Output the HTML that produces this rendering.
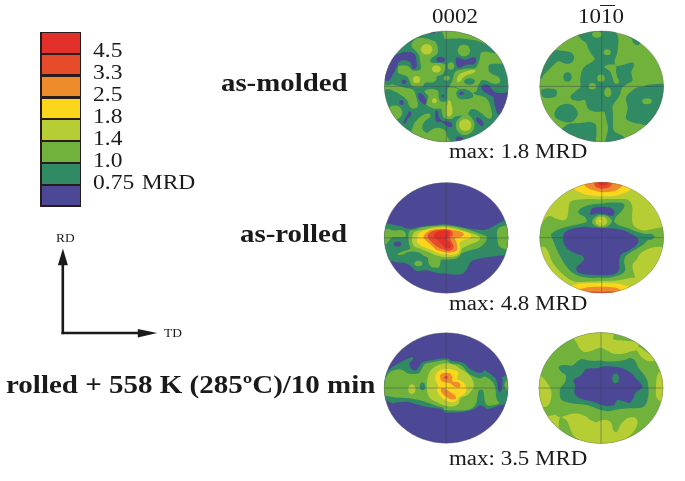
<!DOCTYPE html>
<html><head><meta charset="utf-8">
<style>
html,body{margin:0;padding:0;background:#fff;}
body{width:685px;height:481px;position:relative;overflow:hidden;font-family:"Liberation Serif",serif;color:#1a1a1a;}
.t{position:absolute;white-space:nowrap;line-height:1;transform:scaleX(1.12);transform-origin:0 0;will-change:transform;}
.b{font-weight:bold;}
.lg{position:absolute;left:40.4px;top:31.8px;width:40.7px;height:175.1px;background:#2a1c1c;}
.lg div{position:absolute;left:1.5px;width:37.7px;}
</style></head><body>
<svg width="685" height="481" viewBox="0 0 685 481" style="position:absolute;left:0;top:0"><defs><clipPath id="cf1"><ellipse cx="446.25" cy="86.40" rx="62.00" ry="55.50"/></clipPath><clipPath id="cf2"><ellipse cx="601.65" cy="86.40" rx="62.00" ry="55.50"/></clipPath><clipPath id="cf3"><ellipse cx="446.20" cy="237.90" rx="62.00" ry="55.30"/></clipPath><clipPath id="cf4"><ellipse cx="601.70" cy="237.70" rx="62.00" ry="55.40"/></clipPath><clipPath id="cf5"><ellipse cx="446.10" cy="388.00" rx="62.00" ry="55.30"/></clipPath><clipPath id="cf6"><ellipse cx="601.00" cy="388.00" rx="62.10" ry="55.45"/></clipPath></defs>
<g clip-path="url(#cf1)">
<rect x="383.2" y="29.9" width="126.0" height="113.0" fill="#308a64"/>
<path fill="#70b23c" d="M443.8 28.0C439.4 29.5 443.7 34.2 443.9 36.0C444.1 37.8 443.6 38.4 445.0 38.8C446.4 39.2 449.5 38.7 452.0 38.6C454.5 38.5 457.3 38.1 460.0 38.2C462.7 38.3 465.5 38.9 468.0 39.2C470.5 39.6 472.8 39.8 475.0 40.3C477.2 40.8 479.0 41.3 481.0 42.0C483.0 42.7 485.5 45.2 487.0 44.5C488.5 43.8 492.8 40.9 490.0 38.0C487.2 35.1 477.7 28.7 470.0 27.0C462.3 25.3 448.2 26.5 443.8 28.0Z"/>
<ellipse cx="463.9" cy="50.6" rx="6.2" ry="6.0" fill="#70b23c"/>
<path fill="#70b23c" d="M411.5 45.5C411.4 44.1 412.4 42.2 413.5 41.0C414.6 39.8 416.2 38.8 418.0 38.3C419.8 37.8 422.3 38.1 424.5 38.3C426.7 38.5 429.2 39.1 431.0 39.7C432.8 40.3 434.4 40.9 435.5 42.1C436.6 43.3 437.2 45.2 437.6 46.8C438.0 48.4 438.1 50.2 437.9 51.5C437.7 52.8 437.2 53.7 436.3 54.7C435.4 55.7 433.5 56.3 432.4 57.3C431.3 58.3 429.9 59.6 429.8 60.5C429.7 61.4 430.8 62.4 432.0 62.8C433.2 63.2 435.4 62.9 437.0 63.0C438.6 63.1 440.1 62.9 441.5 63.2C442.9 63.5 444.7 63.8 445.2 65.0C445.7 66.2 445.2 68.9 444.7 70.5C444.2 72.1 443.3 73.5 442.0 74.5C440.7 75.5 438.0 75.4 437.0 76.3C436.0 77.2 436.9 79.0 436.2 80.0C435.4 81.0 434.0 82.1 432.5 82.5C431.0 82.9 428.4 82.0 427.0 82.2C425.6 82.4 425.1 82.8 424.3 83.5C423.6 84.2 423.6 86.0 422.5 86.5C421.4 87.0 419.6 86.8 418.0 86.8C416.4 86.8 414.2 86.6 413.0 86.2C411.8 85.8 411.5 85.2 410.9 84.2C410.3 83.2 410.0 81.5 409.3 80.2C408.6 78.9 408.1 77.2 406.9 76.3C405.7 75.4 403.6 75.2 402.2 74.7C400.8 74.2 398.9 74.1 398.2 73.1C397.5 72.0 397.6 69.6 397.8 68.4C398.0 67.2 398.5 66.3 399.5 65.8C400.5 65.3 402.6 65.5 404.0 65.5C405.4 65.5 406.9 65.5 408.0 66.0C409.1 66.5 409.7 67.8 410.5 68.5C411.3 69.2 411.8 70.2 413.0 70.5C414.2 70.8 416.7 70.8 418.0 70.5C419.3 70.2 420.6 69.8 421.0 68.5C421.4 67.2 420.7 64.9 420.3 62.6C419.9 60.3 419.9 56.9 418.8 54.7C417.8 52.5 415.2 50.7 414.0 49.2C412.8 47.7 411.6 46.9 411.5 45.5Z"/>
<ellipse cx="451" cy="66" rx="3.3" ry="3.8" fill="#70b23c"/>
<ellipse cx="446.8" cy="78.2" rx="2.8" ry="2.4" fill="#70b23c"/>
<path fill="#70b23c" d="M480.6 54.0C480.9 53.0 480.6 52.6 481.8 52.3C483.1 51.9 486.1 51.8 488.1 51.9C490.1 52.0 491.6 52.5 493.6 53.1C495.6 53.7 497.9 54.4 500.0 55.5C502.1 56.6 505.0 58.6 506.0 60.0C507.0 61.4 506.6 63.4 506.0 64.0C505.4 64.6 504.1 63.8 502.3 63.8C500.5 63.8 497.2 63.6 495.0 63.8C492.8 64.0 490.0 63.9 489.0 65.0C488.0 66.2 488.4 69.2 488.9 70.7C489.4 72.2 490.7 73.0 492.1 73.9C493.6 74.8 496.3 75.4 497.6 76.3C498.9 77.2 499.7 78.3 500.0 79.4C500.3 80.5 500.3 82.3 499.2 83.0C498.1 83.7 495.6 84.1 493.6 83.8C491.6 83.5 489.3 81.6 487.3 81.0C485.3 80.4 483.1 79.8 481.8 80.2C480.5 80.6 480.1 82.4 479.4 83.4C478.7 84.5 478.3 85.2 477.8 86.5C477.3 87.8 477.2 90.2 476.3 91.3C475.4 92.4 474.0 92.6 472.3 92.9C470.6 93.2 468.4 93.7 466.0 92.9C463.6 92.1 460.3 89.0 458.0 88.0C455.7 87.0 453.4 86.9 452.0 86.6C450.6 86.3 449.5 86.8 449.5 86.0C449.5 85.2 451.2 83.4 451.9 81.8C452.5 80.2 452.9 77.9 453.4 76.3C453.9 74.7 454.2 73.3 455.0 72.3C455.8 71.2 456.9 70.5 458.2 70.0C459.5 69.5 461.4 69.5 462.9 69.2C464.4 68.9 465.5 68.5 467.0 68.4C468.5 68.3 470.6 68.6 472.0 68.5C473.4 68.4 474.5 68.7 475.5 68.0C476.5 67.3 477.1 65.8 477.8 64.2C478.5 62.6 479.3 60.3 479.8 58.6C480.3 56.9 480.3 55.0 480.6 54.0Z"/>
<path fill="#70b23c" d="M383.0 84.0C383.8 83.4 386.5 85.5 388.0 85.5C389.5 85.5 390.6 84.2 391.9 84.2C393.2 84.2 394.4 84.9 395.8 85.2C397.2 85.5 398.6 85.9 400.0 86.3C401.4 86.7 402.7 87.2 404.0 87.5C405.3 87.8 406.7 88.0 408.0 88.2C409.3 88.4 410.5 88.4 411.6 88.9C412.7 89.5 413.8 90.3 414.5 91.5C415.2 92.7 415.6 94.6 416.0 96.0C416.4 97.4 416.7 98.6 417.0 100.0C417.3 101.4 418.1 103.2 418.0 104.5C417.9 105.8 417.5 107.4 416.5 108.0C415.5 108.6 413.2 108.6 412.0 108.2C410.8 107.8 409.8 106.7 409.0 105.5C408.2 104.3 408.2 102.3 407.5 101.0C406.8 99.7 405.8 98.6 404.5 97.5C403.2 96.4 401.4 95.4 400.0 94.5C398.6 93.6 397.5 92.9 395.8 92.1C394.1 91.3 392.1 90.0 390.0 89.5C387.9 89.0 384.2 89.9 383.0 89.0C381.8 88.1 382.2 84.6 383.0 84.0Z"/>
<path fill="#70b23c" d="M424.5 92.0C424.1 91.0 425.2 90.5 426.0 90.0C426.8 89.5 427.7 89.3 429.0 89.2C430.3 89.1 432.2 89.0 433.6 89.2C435.0 89.4 436.7 89.9 437.5 90.5C438.3 91.1 438.4 91.9 438.6 93.0C438.8 94.1 438.6 95.7 438.8 97.0C439.0 98.3 439.3 100.0 440.0 100.8C440.7 101.6 442.0 101.7 443.0 101.8C444.0 101.9 445.3 101.9 446.0 101.2C446.7 100.5 447.0 99.3 447.2 97.6C447.4 95.9 447.1 92.7 447.3 91.0C447.5 89.3 447.1 88.0 448.5 87.5C449.9 87.0 453.1 87.1 456.0 88.0C458.9 88.9 463.3 92.2 466.0 93.0C468.7 93.8 470.6 92.7 472.3 93.0C474.0 93.3 474.7 94.6 476.0 95.0C477.3 95.4 478.6 95.2 480.0 95.5C481.4 95.8 483.0 96.4 484.2 97.0C485.4 97.6 486.1 97.8 487.0 99.0C487.9 100.2 488.8 101.5 489.7 104.0C490.6 106.5 492.0 111.9 492.1 114.3C492.2 116.7 491.4 118.1 490.5 118.6C489.6 119.1 487.9 118.2 486.5 117.4C485.1 116.6 483.6 114.8 481.8 113.5C480.0 112.2 477.4 110.2 475.5 109.5C473.6 108.8 471.9 109.0 470.7 109.5C469.5 110.0 469.2 111.8 468.4 112.7C467.6 113.6 467.7 114.5 466.0 115.0C464.3 115.5 459.8 115.7 458.0 116.0C456.2 116.3 456.1 116.1 455.0 116.6C453.9 117.1 452.8 118.7 451.1 119.0C449.4 119.3 446.1 119.0 444.7 118.2C443.2 117.4 443.0 115.9 442.4 114.3C441.8 112.7 442.1 109.6 440.8 108.7C439.5 107.8 436.5 109.1 434.5 108.7C432.5 108.3 430.4 107.2 429.0 106.4C427.6 105.6 426.2 105.1 426.0 104.0C425.8 102.9 427.1 101.3 427.5 100.0C427.9 98.7 428.8 97.3 428.3 96.0C427.8 94.7 424.9 93.0 424.5 92.0Z"/>
<path fill="#70b23c" d="M466.5 112.5C467.6 112.4 468.0 113.9 469.0 115.0C470.0 116.1 471.6 117.5 472.5 119.0C473.4 120.5 474.3 122.2 474.5 124.0C474.7 125.8 474.2 127.9 473.5 129.5C472.8 131.1 471.4 132.6 470.0 133.5C468.6 134.4 466.9 135.0 465.2 135.0C463.5 135.0 461.4 134.5 460.0 133.5C458.6 132.5 457.2 130.7 456.5 129.0C455.8 127.3 455.7 125.2 456.0 123.5C456.3 121.8 457.4 120.3 458.5 119.0C459.6 117.7 461.2 116.6 462.5 115.5C463.8 114.4 465.4 112.6 466.5 112.5Z"/>
<path fill="#70b23c" d="M386.0 109.0C386.6 107.9 388.2 107.8 389.5 107.2C390.8 106.6 391.9 105.7 393.5 105.6C395.1 105.5 397.6 105.5 399.0 106.4C400.4 107.3 401.8 109.5 402.2 111.1C402.6 112.7 402.2 114.5 401.4 115.8C400.6 117.1 399.0 118.5 397.4 119.0C395.8 119.5 393.9 119.8 392.0 119.0C390.1 118.2 387.0 115.7 386.0 114.0C385.0 112.3 385.4 110.1 386.0 109.0Z"/>
<path fill="#70b23c" d="M408.0 140.0C408.6 137.9 410.4 134.1 411.4 131.3C412.4 128.6 412.8 125.8 414.2 123.5C415.6 121.2 417.9 118.8 419.9 117.2C421.9 115.6 424.6 114.2 426.3 113.7C428.0 113.2 429.1 113.5 429.8 114.0C430.5 114.5 430.7 115.7 430.5 116.5C430.3 117.3 429.5 117.7 428.4 118.6C427.3 119.5 425.1 120.8 424.1 122.1C423.1 123.4 422.5 125.0 422.4 126.4C422.3 127.8 422.6 129.6 423.4 130.6C424.2 131.6 425.7 132.8 427.0 132.7C428.3 132.6 429.6 130.7 431.2 129.9C432.8 129.1 435.1 128.0 436.9 127.8C438.7 127.6 440.3 127.9 441.8 128.5C443.3 129.1 445.1 130.1 446.0 131.3C446.9 132.6 446.8 133.9 447.0 136.0C447.2 138.1 454.0 142.7 447.5 144.0C441.0 145.3 414.6 144.7 408.0 144.0C401.4 143.3 407.4 142.1 408.0 140.0Z"/>
<ellipse cx="469.5" cy="81.5" rx="5.5" ry="3.3" fill="#308a64"/>
<path fill="#308a64" d="M456.5 92.5C456.8 91.3 457.8 90.1 459.0 89.5C460.2 88.9 462.3 88.6 464.0 88.8C465.7 89.0 467.6 89.7 469.0 90.5C470.4 91.3 471.8 92.4 472.5 93.5C473.2 94.6 473.4 96.2 473.0 97.0C472.6 97.8 471.3 98.1 470.0 98.5C468.7 98.9 466.7 99.1 465.0 99.2C463.3 99.3 461.3 99.5 460.0 99.0C458.7 98.5 457.6 97.6 457.0 96.5C456.4 95.4 456.2 93.7 456.5 92.5Z"/>
<ellipse cx="426.7" cy="49.3" rx="5.8" ry="5.3" fill="#b6ce34"/>
<ellipse cx="416.6" cy="79.6" rx="3.7" ry="3.6" fill="#b6ce34"/>
<ellipse cx="436.4" cy="69" rx="4.4" ry="3.6" fill="#b6ce34"/>
<path fill="#b6ce34" d="M457.0 81.5C456.8 80.7 457.0 78.2 457.5 77.0C458.0 75.8 458.9 74.8 460.0 74.0C461.1 73.2 462.5 72.6 464.0 72.0C465.5 71.4 467.3 70.8 469.0 70.5C470.7 70.2 472.9 69.8 474.0 70.0C475.1 70.2 475.8 70.9 475.5 71.5C475.2 72.1 473.4 72.9 472.0 73.5C470.6 74.1 468.5 74.3 467.0 75.0C465.5 75.7 464.0 76.6 463.0 77.5C462.0 78.4 461.7 79.8 461.0 80.5C460.3 81.2 459.7 81.8 459.0 82.0C458.3 82.2 457.2 82.3 457.0 81.5Z"/>
<ellipse cx="434.4" cy="100.8" rx="2.4" ry="2.5" fill="#b6ce34"/>
<path fill="#b6ce34" d="M449.0 100.0C449.4 99.9 450.1 100.7 450.5 101.5C450.9 102.3 451.1 103.6 451.5 105.0C451.9 106.4 452.5 108.5 452.6 110.0C452.7 111.5 452.5 112.9 452.0 114.0C451.5 115.1 450.3 116.3 449.5 116.6C448.7 116.8 447.5 116.4 447.0 115.5C446.5 114.6 446.3 112.6 446.3 111.0C446.3 109.4 446.7 107.5 447.0 106.0C447.3 104.5 447.7 103.0 448.0 102.0C448.3 101.0 448.6 100.1 449.0 100.0Z"/>
<ellipse cx="465.2" cy="125" rx="6.2" ry="6" fill="#b6ce34"/>
<path fill="#4c4896" d="M385.0 80.0C384.0 78.6 382.8 74.7 383.0 72.0C383.2 69.3 384.8 66.2 386.0 64.0C387.2 61.8 389.0 60.0 390.5 58.5C392.0 57.0 393.3 55.9 395.0 55.0C396.7 54.1 398.3 53.4 400.6 52.9C402.9 52.4 406.6 51.9 409.0 52.1C411.4 52.3 413.6 52.9 414.8 54.2C416.0 55.5 416.1 58.1 416.4 60.0C416.7 61.9 416.9 64.4 416.8 65.8C416.7 67.2 416.3 68.0 415.5 68.5C414.7 69.0 412.7 69.3 412.0 68.6C411.3 67.8 411.9 65.3 411.3 64.0C410.7 62.7 409.9 61.6 408.5 61.0C407.1 60.4 404.5 60.2 403.0 60.3C401.5 60.4 400.4 60.8 399.5 61.5C398.6 62.2 398.2 63.1 397.5 64.5C396.8 65.9 396.4 68.1 395.5 70.0C394.6 71.9 393.1 74.2 392.0 76.0C390.9 77.8 390.2 79.8 389.0 80.5C387.8 81.2 386.0 81.4 385.0 80.0Z"/>
<path fill="#4c4896" d="M456.0 58.0C456.5 57.1 457.8 57.2 459.0 57.5C460.2 57.8 461.8 59.2 463.0 59.5C464.2 59.8 465.3 59.8 466.5 59.5C467.7 59.2 468.8 58.4 470.0 58.0C471.2 57.6 473.0 57.1 474.0 57.2C475.0 57.3 475.8 57.6 476.0 58.5C476.2 59.4 476.0 61.5 475.5 62.5C475.0 63.5 474.2 64.2 473.0 64.5C471.8 64.8 469.5 64.3 468.0 64.5C466.5 64.7 465.2 65.0 464.0 65.5C462.8 66.0 462.1 67.2 461.0 67.5C459.9 67.8 458.3 67.8 457.5 67.0C456.7 66.2 456.2 64.5 456.0 63.0C455.8 61.5 455.5 58.9 456.0 58.0Z"/>
<ellipse cx="440.7" cy="59.6" rx="4.3" ry="2.9" fill="#4c4896"/>
<ellipse cx="404" cy="81.8" rx="2.5" ry="2.4" fill="#4c4896"/>
<path fill="#4c4896" d="M418.0 94.0C418.3 93.1 419.6 93.0 420.5 93.3C421.4 93.5 422.6 94.5 423.5 95.5C424.4 96.5 425.5 98.2 426.0 99.5C426.5 100.8 426.6 102.7 426.3 103.5C426.1 104.3 425.3 104.7 424.5 104.5C423.7 104.3 422.5 103.5 421.5 102.5C420.5 101.5 419.1 99.9 418.5 98.5C417.9 97.1 417.7 94.9 418.0 94.0Z"/>
<ellipse cx="401.5" cy="102.5" rx="2.2" ry="2.5" fill="#4c4896"/>
<ellipse cx="443" cy="96" rx="1.4" ry="1.2" fill="#4c4896"/>
<ellipse cx="461.5" cy="93.5" rx="2.2" ry="1.8" fill="#4c4896"/>
<path fill="#4c4896" d="M481.8 85.7C482.4 85.0 484.4 84.5 485.7 84.6C487.0 84.7 488.5 85.1 489.7 86.1C490.9 87.1 491.6 89.4 492.9 90.5C494.2 91.6 495.8 92.5 497.6 92.9C499.4 93.3 502.0 92.8 503.9 92.9C505.8 93.0 508.1 89.8 509.0 93.6C509.9 97.4 510.8 112.5 509.0 116.0C507.2 119.5 500.6 115.5 498.4 114.3C496.2 113.1 496.7 110.4 496.0 108.7C495.3 107.0 494.8 105.8 494.4 104.0C494.0 102.2 494.4 99.1 493.6 97.6C492.8 96.1 491.3 96.1 489.7 95.2C488.1 94.3 485.5 93.1 484.2 92.1C482.9 91.0 482.2 90.0 481.8 88.9C481.4 87.8 481.2 86.4 481.8 85.7Z"/>
<path fill="#4c4896" d="M409.0 111.5C409.6 111.4 411.2 111.8 411.5 112.5C411.8 113.2 411.1 115.0 410.5 116.0C409.9 117.0 408.8 117.4 408.0 118.5C407.2 119.6 406.7 121.6 406.0 122.5C405.3 123.4 404.4 124.1 404.0 124.0C403.6 123.9 403.2 123.0 403.5 122.0C403.8 121.0 404.9 119.1 405.5 118.0C406.1 116.9 406.6 116.3 407.0 115.5C407.4 114.7 407.7 113.7 408.0 113.0C408.3 112.3 408.4 111.6 409.0 111.5Z"/>
<path fill="#4c4896" d="M435.3 111.5C435.6 110.2 437.0 110.5 437.5 111.1C438.0 111.7 438.1 113.7 438.5 115.0C438.9 116.3 439.2 118.0 440.0 119.0C440.8 120.0 441.8 120.6 443.0 121.0C444.2 121.4 445.6 121.2 447.0 121.4C448.4 121.7 450.7 121.7 451.5 122.5C452.3 123.3 452.3 125.8 451.9 126.5C451.5 127.2 450.0 127.2 449.0 127.0C448.0 126.8 447.2 125.8 446.0 125.0C444.8 124.2 443.1 122.7 441.6 122.2C440.1 121.7 438.0 122.5 437.0 122.0C436.0 121.5 435.8 120.8 435.5 119.0C435.2 117.2 435.0 112.8 435.3 111.5Z"/>
<ellipse cx="459.3" cy="139" rx="3.8" ry="2.5" fill="#4c4896"/>
<path fill="#4c4896" d="M476.0 118.5C476.2 117.9 476.8 117.3 477.5 117.4C478.2 117.5 479.6 118.2 480.5 119.0C481.4 119.8 482.7 121.4 483.2 122.5C483.7 123.6 483.8 124.9 483.5 125.5C483.2 126.1 482.3 126.5 481.5 126.2C480.7 125.9 479.4 124.4 478.5 123.5C477.6 122.6 476.7 121.8 476.3 121.0C475.9 120.2 475.8 119.1 476.0 118.5Z"/>
<ellipse cx="432" cy="32.5" rx="3" ry="1.3" fill="#4c4896"/>
</g>
<path d="M384.25 86.40H508.25M446.25 30.90V141.90" stroke="#3a3a55" stroke-width="0.85" stroke-opacity="0.5" fill="none"/>
<ellipse cx="446.25" cy="86.40" rx="62.00" ry="55.50" fill="none" stroke="#666" stroke-width="0.7" stroke-opacity="0.5"/>
<g clip-path="url(#cf2)">
<rect x="538.6" y="29.9" width="126.0" height="113.0" fill="#70b23c"/>
<path fill="#308a64" d="M575.0 29.0C569.3 30.0 576.7 33.0 577.8 34.8C578.9 36.6 580.0 38.2 581.4 39.6C582.8 41.0 585.0 41.7 586.2 43.3C587.4 44.9 587.6 47.3 588.6 49.3C589.6 51.3 591.2 53.7 592.2 55.3C593.2 56.9 594.8 57.7 594.6 58.9C594.4 60.1 592.6 61.3 591.0 62.5C589.4 63.7 586.6 64.6 585.0 66.2C583.4 67.8 582.2 69.8 581.4 72.2C580.6 74.6 580.4 78.1 580.2 80.6C580.1 83.1 581.0 85.4 580.5 87.0C580.0 88.6 578.0 89.1 577.0 90.0C576.0 90.9 575.3 91.4 574.2 92.4C573.1 93.4 570.8 94.9 570.5 96.1C570.2 97.3 570.9 98.9 572.3 99.7C573.7 100.5 576.9 100.9 579.0 100.9C581.1 101.0 583.8 99.4 585.0 100.0C586.2 100.6 585.6 103.0 586.2 104.5C586.8 106.0 587.2 108.1 588.6 109.3C590.0 110.5 592.3 111.3 594.6 111.7C596.9 112.1 600.8 111.3 602.5 111.5C604.2 111.7 604.1 111.5 604.8 113.0C605.5 114.5 606.0 117.9 606.5 120.2C607.0 122.5 607.8 125.0 608.0 127.0C608.2 129.0 607.8 130.2 607.5 132.0C607.2 133.8 606.4 135.8 606.0 138.0C605.6 140.2 601.7 143.8 605.0 145.0C608.3 146.2 622.8 146.3 626.0 145.0C629.2 143.7 625.3 138.8 624.1 137.0C622.9 135.2 620.7 135.0 619.0 134.0C617.3 133.0 615.0 132.5 614.0 131.0C613.0 129.5 613.2 127.7 613.0 125.0C612.8 122.3 613.1 117.8 613.0 115.0C612.9 112.2 612.5 109.8 612.5 108.1C612.5 106.3 612.2 106.5 613.3 104.5C614.4 102.5 617.8 98.8 619.3 96.1C620.8 93.3 620.6 90.1 622.0 88.0C623.4 85.9 626.0 84.7 627.7 83.5C629.5 82.3 631.9 82.5 632.5 80.6C633.1 78.7 631.1 74.6 631.3 72.2C631.5 69.8 633.5 67.8 633.7 66.2C633.9 64.6 634.1 62.8 632.5 62.5C630.9 62.2 626.7 63.9 624.1 64.5C621.5 65.1 618.5 66.5 616.9 66.0C615.3 65.5 614.5 63.3 614.5 61.3C614.5 59.3 616.3 56.7 616.9 54.1C617.5 51.5 617.9 48.5 618.1 45.7C618.3 42.9 618.5 39.4 618.1 37.2C617.7 35.0 616.7 33.8 615.7 32.4C614.7 31.0 618.8 29.6 612.0 29.0C605.2 28.4 580.7 28.0 575.0 29.0Z"/>
<path fill="#308a64" d="M554.9 50.5C556.1 50.1 555.7 49.8 557.3 49.9C558.9 50.0 562.1 50.6 564.5 51.1C566.9 51.6 570.1 51.8 571.7 52.9C573.3 54.0 574.2 56.1 574.2 57.7C574.2 59.3 573.1 61.5 571.7 62.5C570.3 63.5 567.9 63.9 565.7 63.7C563.5 63.5 560.5 61.1 558.5 61.3C556.5 61.5 555.3 63.6 553.7 65.0C552.1 66.4 550.4 68.2 548.8 69.8C547.2 71.4 545.2 73.2 544.0 74.6C542.8 76.0 542.9 77.3 541.6 78.2C540.3 79.1 536.9 82.7 536.0 80.0C535.1 77.3 534.5 66.0 536.0 62.0C537.5 58.0 542.7 57.7 545.0 56.0C547.3 54.3 548.4 52.9 550.0 52.0C551.6 51.1 553.7 50.9 554.9 50.5Z"/>
<ellipse cx="567.5" cy="77" rx="4.2" ry="4.8" fill="#308a64"/>
<path fill="#308a64" d="M541.5 90.0C542.1 89.0 543.4 88.9 545.0 88.7C546.6 88.5 549.2 88.6 551.0 88.7C552.8 88.8 554.5 88.9 555.5 89.5C556.5 90.1 557.0 91.3 557.0 92.5C557.0 93.7 556.7 95.6 555.5 96.5C554.3 97.4 551.9 97.8 550.0 98.0C548.1 98.2 545.4 98.0 544.0 97.5C542.6 97.0 541.9 96.2 541.5 95.0C541.1 93.8 540.9 91.0 541.5 90.0Z"/>
<path fill="#308a64" d="M554.9 111.7C555.7 109.9 557.3 107.0 559.7 105.7C562.1 104.4 566.7 103.5 569.3 103.9C571.9 104.3 574.0 106.4 575.4 108.1C576.8 109.8 578.0 112.1 577.8 114.1C577.6 116.1 575.8 118.8 574.2 120.2C572.6 121.6 570.5 122.6 568.1 122.6C565.7 122.6 561.9 121.2 559.7 120.2C557.5 119.2 555.7 117.9 554.9 116.5C554.1 115.1 554.1 113.5 554.9 111.7Z"/>
<path fill="#308a64" d="M562.1 128.6C563.8 126.7 566.7 124.7 569.3 123.8C571.9 122.9 574.4 123.5 577.8 123.2C581.2 122.9 586.8 121.7 589.8 122.0C592.8 122.3 594.7 123.3 595.9 125.0C597.1 126.7 597.0 129.9 597.0 132.2C597.0 134.5 596.7 136.9 596.0 139.0C595.3 141.1 599.0 144.0 593.0 145.0C587.0 146.0 565.7 146.7 560.0 145.0C554.3 143.3 558.6 137.7 559.0 135.0C559.4 132.3 560.4 130.5 562.1 128.6Z"/>
<path fill="#308a64" d="M643.4 86.4C641.1 87.0 638.6 86.6 636.0 88.0C633.4 89.4 629.4 92.8 627.7 94.8C626.0 96.8 625.9 97.5 625.9 99.7C625.9 101.9 627.7 105.1 627.7 108.1C627.7 111.1 625.5 115.5 625.9 117.7C626.3 119.9 627.8 120.4 630.1 121.4C632.4 122.4 636.8 123.4 639.8 123.8C642.8 124.2 644.6 126.3 648.0 124.0C651.4 121.7 656.7 115.7 660.0 110.0C663.3 104.3 666.7 94.3 668.0 90.0C669.3 85.7 671.0 84.9 668.0 84.0C665.0 83.1 654.1 84.1 650.0 84.5C645.9 84.9 645.7 85.8 643.4 86.4Z"/>
<path fill="#308a64" d="M629.0 36.0C628.4 36.9 630.5 37.1 631.3 38.4C632.1 39.6 633.0 42.4 634.0 43.5C635.0 44.6 636.4 45.2 637.5 45.1C638.6 45.0 639.9 44.2 640.5 43.0C641.1 41.8 641.9 39.7 641.0 38.0C640.1 36.3 637.0 33.3 635.0 33.0C633.0 32.7 629.6 35.1 629.0 36.0Z"/>
<ellipse cx="597" cy="34.5" rx="5" ry="3.2" fill="#70b23c"/>
<ellipse cx="607.2" cy="52.3" rx="3.6" ry="3" fill="#70b23c"/>
<path fill="#70b23c" d="M604.5 67.0C604.5 66.3 605.8 65.4 607.0 65.0C608.2 64.6 610.6 64.7 612.0 64.6C613.4 64.5 614.8 64.0 615.5 64.5C616.2 65.0 616.4 66.4 616.5 67.5C616.6 68.6 615.9 69.6 616.0 71.0C616.1 72.4 616.5 74.2 617.0 76.0C617.5 77.8 619.1 80.2 619.0 81.5C618.9 82.8 617.3 83.9 616.5 84.0C615.7 84.1 614.7 83.1 614.0 82.0C613.3 80.9 613.1 79.2 612.5 77.5C611.9 75.8 611.1 72.9 610.2 71.5C609.3 70.1 608.0 69.8 607.0 69.0C606.0 68.2 604.5 67.7 604.5 67.0Z"/>
<ellipse cx="601" cy="78.2" rx="3.8" ry="3.6" fill="#70b23c"/>
<ellipse cx="592.3" cy="86.2" rx="3.6" ry="3.2" fill="#70b23c"/>
<ellipse cx="607.8" cy="92.4" rx="3.6" ry="4.8" fill="#70b23c"/>
<path fill="#70b23c" d="M596.5 124.0C596.8 121.3 597.3 120.8 598.0 119.0C598.7 117.2 599.6 114.7 600.5 113.5C601.4 112.3 602.8 111.8 603.5 112.0C604.2 112.2 604.7 113.5 605.0 115.0C605.3 116.5 605.3 118.8 605.5 121.0C605.7 123.2 606.0 125.7 606.0 128.0C606.0 130.3 605.8 132.2 605.5 135.0C605.2 137.8 605.6 143.3 604.0 145.0C602.4 146.7 597.2 146.7 596.0 145.0C594.8 143.3 596.4 138.5 596.5 135.0C596.6 131.5 596.2 126.7 596.5 124.0Z"/>
<ellipse cx="647" cy="101.2" rx="4.8" ry="3" fill="#70b23c"/>
</g>
<path d="M539.65 86.40H663.65M601.65 30.90V141.90" stroke="#3a3a55" stroke-width="0.85" stroke-opacity="0.5" fill="none"/>
<ellipse cx="601.65" cy="86.40" rx="62.00" ry="55.50" fill="none" stroke="#666" stroke-width="0.7" stroke-opacity="0.5"/>
<g clip-path="url(#cf3)">
<rect x="383.2" y="181.6" width="126.0" height="112.6" fill="#4c4896"/>
<path fill="#308a64" d="M380.0 223.0C380.9 217.0 383.7 223.3 385.6 223.5C387.6 223.7 389.2 224.0 391.7 224.4C394.2 224.8 398.2 225.4 400.5 226.1C402.8 226.8 404.0 227.9 405.7 228.3C407.4 228.7 409.1 228.8 410.9 228.7C412.6 228.5 414.7 227.7 416.2 227.4C417.7 227.1 417.7 227.3 420.0 227.0C422.3 226.7 426.8 226.0 430.2 225.6C433.6 225.2 437.7 224.8 440.4 224.6C443.1 224.4 444.0 224.2 446.6 224.4C449.2 224.6 452.6 225.2 455.8 225.8C459.0 226.4 462.6 227.4 466.0 228.0C469.4 228.6 473.3 229.2 476.2 229.5C479.1 229.8 481.2 230.2 483.4 230.0C485.6 229.8 487.4 229.2 489.6 228.2C491.8 227.2 494.6 225.4 496.8 224.2C499.0 223.0 500.4 222.2 502.9 221.2C505.4 220.2 510.5 212.5 512.0 218.0C513.5 223.5 513.3 247.8 512.0 254.0C510.7 260.2 507.2 254.9 504.1 255.3C501.0 255.7 497.0 256.0 493.2 256.5C489.4 257.0 484.8 257.5 481.2 258.3C477.6 259.1 473.7 259.8 471.5 261.3C469.3 262.8 469.3 265.3 467.9 267.3C466.5 269.3 465.3 272.2 463.1 273.4C460.9 274.6 457.6 274.6 454.6 274.6C451.6 274.6 447.3 273.6 445.0 273.4C442.7 273.2 442.8 273.6 440.9 273.4C439.0 273.2 436.0 272.7 433.6 272.2C431.2 271.7 428.8 270.5 426.4 270.3C424.0 270.1 421.2 271.1 419.2 271.0C417.2 270.9 415.7 270.5 414.3 269.7C412.9 268.9 412.3 267.2 410.7 266.1C409.1 265.0 407.3 263.8 404.7 263.1C402.1 262.4 397.9 262.4 395.1 261.9C392.3 261.4 390.3 260.5 387.8 260.1C385.3 259.7 381.3 265.7 380.0 259.5C378.7 253.3 379.1 229.0 380.0 223.0Z"/>
<path fill="#70b23c" d="M380.0 229.5C380.8 226.9 383.3 229.7 384.7 229.6C386.1 229.5 386.7 228.5 388.2 228.7C389.7 228.8 391.4 230.3 393.5 230.5C395.6 230.7 398.8 229.9 400.5 230.0C402.2 230.1 403.0 230.6 403.9 231.3C404.8 232.0 405.5 233.1 405.7 234.0C405.9 234.9 406.8 236.5 404.8 237.0C402.8 237.5 395.8 236.8 393.5 237.0C391.2 237.2 391.9 237.4 390.9 238.3C389.9 239.2 388.4 241.7 387.4 242.7C386.4 243.7 385.9 244.0 384.7 244.4C383.5 244.8 380.8 247.5 380.0 245.0C379.2 242.5 379.2 232.1 380.0 229.5Z"/>
<path fill="#70b23c" d="M409.2 231.3C409.8 230.1 410.6 230.3 411.8 230.0C413.0 229.7 414.8 229.8 416.2 229.4C417.6 229.0 417.7 228.2 420.0 227.7C422.3 227.2 425.9 226.7 430.2 226.3C434.4 226.0 440.4 225.4 445.5 225.6C450.6 225.8 456.3 226.8 460.9 227.7C465.5 228.6 469.7 230.1 473.1 231.2C476.5 232.3 479.1 233.5 481.3 234.3C483.5 235.2 485.5 235.3 486.4 236.3C487.2 237.3 486.9 239.0 486.4 240.4C485.9 241.8 484.9 243.1 483.4 244.5C481.9 245.9 479.8 247.5 477.2 248.6C474.6 249.7 470.7 250.2 468.0 251.0C465.3 251.8 462.4 252.7 461.0 253.5C459.6 254.3 460.8 255.1 459.7 256.0C458.6 256.9 457.1 258.5 454.7 259.1C452.3 259.7 447.7 259.6 445.4 259.7C443.1 259.8 441.9 259.1 441.0 260.0C440.1 260.9 440.4 263.8 440.0 265.0C439.6 266.2 439.8 267.1 438.5 267.5C437.2 267.9 434.0 267.9 432.4 267.3C430.8 266.7 429.6 265.3 428.8 263.7C428.0 262.1 428.4 259.0 427.6 257.7C426.8 256.4 425.0 256.6 424.0 256.0C423.0 255.4 422.4 254.6 421.4 254.0C420.4 253.4 419.5 252.7 417.9 252.3C416.3 251.9 413.6 251.4 411.8 251.4C410.1 251.4 408.8 251.8 407.4 252.3C405.9 252.8 404.7 254.1 403.1 254.5C401.5 254.9 398.5 255.1 397.8 254.9C397.1 254.7 397.4 253.9 398.7 253.2C400.0 252.5 403.8 251.2 405.7 250.5C407.6 249.8 409.5 249.8 410.1 248.8C410.7 247.8 409.5 246.3 409.2 244.4C408.9 242.5 408.3 239.7 408.3 237.5C408.3 235.3 408.6 232.6 409.2 231.3Z"/>
<ellipse cx="418.3" cy="263.5" rx="4" ry="2.8" fill="#70b23c"/>
<path fill="#70b23c" d="M497.0 232.0C497.2 230.0 497.8 229.0 499.0 228.0C500.2 227.0 502.2 226.3 504.0 226.0C505.8 225.7 509.0 222.0 510.0 226.0C511.0 230.0 510.8 246.1 510.0 250.0C509.2 253.9 506.8 250.0 505.0 249.3C503.2 248.6 500.2 247.6 499.0 246.0C497.8 244.4 497.8 242.3 497.5 240.0C497.2 237.7 496.8 234.0 497.0 232.0Z"/>
<ellipse cx="397.6" cy="244" rx="3.7" ry="2.6" fill="#4c4896"/>
<path fill="#b6ce34" d="M411.8 239.2C411.8 236.9 413.1 233.6 414.4 232.2C415.7 230.8 417.6 231.0 419.6 230.5C421.6 230.0 424.8 229.5 426.6 229.0C428.4 228.5 427.1 228.1 430.2 227.7C433.3 227.3 440.7 226.3 445.5 226.6C450.3 226.8 454.9 228.2 458.8 229.2C462.7 230.1 465.9 231.3 469.0 232.3C472.1 233.3 475.3 234.4 477.2 235.3C479.1 236.2 480.3 236.9 480.3 237.9C480.3 238.9 479.1 240.3 477.2 241.5C475.3 242.7 471.5 243.8 469.0 245.0C466.5 246.2 463.8 247.0 462.2 248.5C460.6 250.0 460.9 252.8 459.7 254.1C458.4 255.4 457.1 256.1 454.7 256.6C452.3 257.1 448.5 257.4 445.4 257.2C442.3 257.0 438.9 256.2 436.0 255.3C433.1 254.4 430.9 253.1 428.2 252.0C425.5 250.9 422.3 249.6 420.0 248.6C417.7 247.6 415.8 247.8 414.4 246.2C413.0 244.6 411.8 241.5 411.8 239.2Z"/>
<path fill="#fcd61c" d="M417.0 240.9C416.6 239.2 417.3 236.2 417.9 234.8C418.5 233.4 419.3 232.9 420.5 232.2C421.7 231.5 422.4 231.2 424.9 230.5C427.4 229.8 431.9 228.7 435.3 228.2C438.7 227.7 442.1 227.4 445.5 227.7C448.9 227.9 452.4 228.9 455.8 229.7C459.2 230.5 463.4 231.4 466.0 232.3C468.6 233.2 470.6 234.3 471.1 235.3C471.6 236.3 470.4 237.6 469.0 238.4C467.6 239.2 464.4 239.5 462.9 240.2C461.3 240.9 460.2 241.1 459.7 242.5C459.2 243.9 460.0 246.8 459.7 248.5C459.4 250.2 459.1 251.8 457.8 252.8C456.5 253.8 454.2 254.5 451.6 254.7C449.0 254.9 444.8 254.5 442.2 254.1C439.6 253.7 438.0 252.9 436.0 252.2C434.0 251.4 432.8 250.8 430.2 249.6C427.6 248.4 422.7 246.8 420.5 245.3C418.3 243.9 417.4 242.7 417.0 240.9Z"/>
<path fill="#ee8c2c" d="M424.1 238.4C423.4 237.2 423.4 236.5 424.1 235.3C424.8 234.1 426.3 232.2 428.2 231.2C430.1 230.2 432.4 229.6 435.3 229.2C438.2 228.8 442.4 228.5 445.5 228.7C448.6 228.9 451.1 229.7 453.7 230.2C456.3 230.7 459.2 231.1 460.9 231.8C462.6 232.5 463.9 233.4 463.9 234.3C463.9 235.2 462.4 236.5 460.9 237.2C459.4 237.8 455.7 237.4 455.0 238.2C454.3 239.0 456.2 240.5 456.6 242.2C457.0 243.9 457.4 246.9 457.2 248.5C457.0 250.1 456.8 250.9 455.3 251.6C453.9 252.3 450.7 252.8 448.5 252.8C446.3 252.8 444.3 252.1 442.2 251.6C440.1 251.1 437.5 250.5 436.0 249.7C434.5 248.9 434.6 248.2 433.3 247.0C432.0 245.8 429.7 243.9 428.2 242.5C426.7 241.1 424.8 239.6 424.1 238.4Z"/>
<path fill="#e64c2c" d="M428.2 238.4C427.5 237.0 427.5 235.5 428.2 234.3C428.9 233.1 430.3 232.0 432.3 231.2C434.3 230.4 437.8 229.9 440.4 229.7C442.9 229.4 445.7 229.4 447.6 229.7C449.5 229.9 450.9 230.3 451.7 231.2C452.5 232.1 453.0 234.1 452.7 235.3C452.4 236.5 449.9 236.7 450.0 238.4C450.1 240.1 453.0 243.6 453.5 245.4C454.0 247.2 453.6 248.2 452.8 249.1C452.0 250.0 450.3 251.0 448.5 251.0C446.7 251.0 444.3 249.9 442.2 249.1C440.1 248.3 437.6 247.1 436.0 246.0C434.4 244.9 433.6 243.8 432.3 242.5C431.0 241.2 428.9 239.8 428.2 238.4Z"/>
<path fill="#e4302a" d="M434.3 237.4C433.6 236.4 433.6 235.3 434.3 234.3C435.0 233.3 436.5 231.9 438.4 231.2C440.3 230.5 443.6 230.0 445.5 230.2C447.4 230.4 449.1 231.3 449.6 232.3C450.1 233.3 449.0 235.2 448.6 236.3C448.2 237.4 446.9 238.1 447.0 239.0C447.1 239.9 448.8 240.8 449.5 242.0C450.2 243.2 451.1 244.9 451.0 246.0C450.9 247.1 449.9 248.2 449.0 248.5C448.1 248.8 446.6 248.5 445.5 248.0C444.4 247.5 443.7 246.8 442.5 245.5C441.3 244.2 439.8 241.8 438.4 240.4C437.0 239.1 435.0 238.4 434.3 237.4Z"/>
</g>
<path d="M384.20 237.90H508.20M446.20 182.60V293.20" stroke="#3a3a55" stroke-width="0.85" stroke-opacity="0.5" fill="none"/>
<ellipse cx="446.20" cy="237.90" rx="62.00" ry="55.30" fill="none" stroke="#666" stroke-width="0.7" stroke-opacity="0.5"/>
<g clip-path="url(#cf4)">
<rect x="538.7" y="181.3" width="126.0" height="112.8" fill="#b6ce34"/>
<path fill="#70b23c" d="M536.0 226.0C536.9 222.2 540.1 225.7 541.6 224.4C543.1 223.1 543.8 219.8 545.2 218.4C546.6 217.0 547.8 215.8 550.0 216.0C552.2 216.2 555.9 219.0 558.5 219.6C561.1 220.2 564.1 220.6 565.7 219.6C567.3 218.6 567.5 216.1 568.1 213.5C568.7 210.9 568.3 206.1 569.3 203.9C570.3 201.7 571.0 201.1 574.2 200.3C577.4 199.5 584.0 199.3 588.6 199.1C593.2 198.9 598.1 199.3 602.0 199.3C605.9 199.3 608.3 199.1 612.0 199.1C615.7 199.1 621.1 198.7 624.1 199.1C627.1 199.5 628.7 199.9 630.1 201.5C631.5 203.1 632.2 206.1 632.5 208.7C632.8 211.3 631.8 214.4 632.0 217.2C632.2 220.0 632.0 223.4 633.7 225.6C635.4 227.8 639.2 229.8 642.2 230.4C645.2 231.0 649.2 229.6 651.8 229.2C654.4 228.8 655.5 228.0 657.9 228.0C660.3 228.0 664.6 226.0 666.0 229.0C667.4 232.0 667.4 243.0 666.0 246.0C664.6 249.0 660.5 246.5 657.9 246.8C655.3 247.1 653.4 247.0 650.6 248.0C647.8 249.0 643.4 250.9 641.0 252.9C638.6 254.9 637.6 258.1 636.2 260.1C634.8 262.1 632.9 262.9 632.5 264.9C632.1 266.9 633.3 270.1 633.7 272.2C634.1 274.3 635.6 276.5 635.0 277.5C634.4 278.5 632.8 277.5 629.8 278.0C626.8 278.5 622.0 280.0 616.7 280.5C611.4 281.0 603.1 281.0 598.0 281.2C592.9 281.4 590.0 281.8 586.0 281.8C582.0 281.9 577.8 282.5 574.2 281.5C570.6 280.5 567.5 278.2 564.5 275.8C561.5 273.4 558.3 269.9 556.1 267.3C553.9 264.7 552.5 262.5 551.3 260.1C550.1 257.7 549.8 255.0 548.8 252.9C547.8 250.8 546.6 248.4 545.2 247.4C543.8 246.4 541.9 246.9 540.4 246.8C538.9 246.7 536.7 250.5 536.0 247.0C535.3 243.5 535.1 229.8 536.0 226.0Z"/>
<path fill="#308a64" d="M551.3 236.0C550.9 234.7 550.5 234.9 551.3 234.0C552.1 233.1 553.5 231.6 556.1 230.4C558.7 229.2 563.3 227.8 566.9 226.8C570.5 225.8 574.6 225.2 577.8 224.4C581.0 223.6 585.0 223.2 586.2 222.0C587.4 220.8 586.2 218.6 585.0 217.2C583.8 215.8 580.0 214.7 579.0 213.5C578.0 212.3 577.4 211.3 579.0 209.9C580.6 208.5 584.8 206.2 588.6 205.1C592.4 204.0 598.1 203.9 602.0 203.5C605.9 203.1 608.5 202.5 612.0 202.5C615.5 202.5 620.9 202.5 622.9 203.3C624.9 204.1 624.5 206.0 624.1 207.5C623.7 209.0 621.9 210.7 620.5 212.3C619.1 213.9 616.7 215.6 615.7 217.2C614.7 218.8 613.9 220.6 614.5 222.0C615.1 223.4 617.1 224.6 619.3 225.6C621.5 226.6 624.9 227.0 627.7 228.0C630.5 229.0 633.2 230.6 636.2 231.6C639.2 232.6 643.5 233.6 645.8 234.0C648.1 234.4 648.5 233.5 650.0 233.8C651.5 234.1 654.2 235.0 654.5 236.0C654.8 237.0 652.5 239.1 651.5 239.8C650.5 240.5 649.6 239.2 648.2 240.0C646.9 240.8 645.8 242.7 643.4 244.4C641.0 246.2 636.5 248.7 633.7 250.5C630.9 252.3 628.1 253.5 626.5 255.3C624.9 257.1 624.3 258.9 624.1 261.3C623.9 263.7 625.9 267.5 625.3 269.7C624.7 271.9 623.1 273.3 620.5 274.6C617.9 275.9 613.0 277.1 609.6 277.6C606.2 278.1 603.9 277.8 600.0 277.8C596.1 277.8 590.3 278.1 586.2 277.6C582.1 277.1 578.4 276.1 575.4 274.6C572.4 273.1 570.3 270.9 568.1 268.5C565.9 266.1 563.9 263.1 562.1 260.1C560.3 257.1 558.7 253.5 557.3 250.5C555.9 247.5 554.7 244.4 553.7 242.0C552.7 239.6 551.7 237.3 551.3 236.0Z"/>
<path fill="#4c4896" d="M590.0 213.3C590.0 212.2 591.0 209.5 592.0 208.5C593.0 207.5 594.3 207.5 596.0 207.2C597.7 206.9 600.0 206.7 602.0 206.7C604.0 206.7 606.3 207.0 608.0 207.3C609.7 207.6 610.9 207.7 612.0 208.6C613.1 209.5 614.6 211.4 614.6 212.6C614.6 213.8 613.5 215.7 612.0 216.0C610.5 216.3 607.5 214.6 605.3 214.2C603.1 213.8 600.8 213.4 598.6 213.5C596.4 213.6 593.4 214.8 592.0 214.8C590.6 214.8 590.0 214.4 590.0 213.3Z"/>
<path fill="#4c4896" d="M563.3 236.0C563.6 234.1 564.1 232.8 565.7 231.6C567.3 230.4 570.0 229.4 573.0 228.6C576.0 227.8 580.8 227.0 583.8 226.8C586.8 226.6 588.0 227.2 591.0 227.4C594.0 227.6 598.5 227.8 602.0 228.0C605.5 228.2 608.3 228.2 612.0 228.6C615.7 229.0 621.1 229.6 624.1 230.4C627.1 231.2 628.1 232.5 630.1 233.5C632.1 234.5 634.6 235.3 636.0 236.5C637.4 237.7 638.6 239.3 638.6 240.8C638.6 242.3 637.8 244.0 636.2 245.6C634.6 247.2 631.3 249.1 628.9 250.5C626.5 251.9 623.3 252.5 621.7 254.1C620.1 255.7 619.7 257.7 619.3 260.1C618.9 262.5 619.9 266.3 619.3 268.5C618.7 270.7 617.7 272.3 615.7 273.4C613.7 274.5 609.8 274.9 607.2 275.2C604.6 275.5 601.9 275.3 600.0 275.3C598.1 275.3 598.2 275.3 595.9 275.2C593.6 275.1 589.2 275.1 586.2 274.6C583.2 274.1 579.4 273.4 577.8 272.2C576.2 271.0 576.2 268.7 576.6 267.3C577.0 265.9 579.0 264.9 580.2 263.7C581.4 262.5 583.4 261.4 583.8 260.1C584.2 258.8 583.8 256.9 582.6 255.9C581.4 254.9 579.0 255.2 576.6 254.1C574.2 253.0 570.2 251.1 568.1 249.3C566.0 247.5 564.7 245.4 563.9 243.2C563.1 241.0 563.0 237.9 563.3 236.0Z"/>
<path fill="#70b23c" d="M592.0 222.0C592.0 220.8 593.1 219.1 594.0 218.0C594.9 216.9 596.2 216.0 597.5 215.5C598.8 215.0 600.5 214.9 602.0 215.0C603.5 215.1 605.2 215.3 606.5 215.8C607.8 216.3 609.1 217.1 610.0 218.0C610.9 218.9 612.0 220.2 612.0 221.3C612.0 222.4 610.9 223.6 610.0 224.5C609.1 225.4 607.8 226.3 606.5 226.8C605.2 227.3 603.5 227.3 602.0 227.3C600.5 227.3 598.8 227.1 597.5 226.7C596.2 226.3 594.9 225.8 594.0 225.0C593.1 224.2 592.0 223.2 592.0 222.0Z"/>
<ellipse cx="601.3" cy="221.3" rx="6" ry="4.7" fill="#b6ce34"/>
<ellipse cx="600.7" cy="221.3" rx="1.5" ry="1.3" fill="#fcd61c"/>
<path fill="#fcd61c" d="M570.0 184.0C569.0 185.9 572.2 187.1 573.7 188.4C575.2 189.7 576.6 190.9 579.0 192.0C581.4 193.1 584.2 194.3 588.0 195.0C591.8 195.7 597.3 196.2 601.8 196.3C606.3 196.4 611.2 196.4 614.9 195.8C618.6 195.2 621.6 194.0 624.2 193.0C626.8 192.0 629.1 191.0 630.7 189.8C632.3 188.6 635.0 188.1 634.0 186.0C633.0 183.9 634.0 178.5 625.0 177.0C616.0 175.5 589.2 175.8 580.0 177.0C570.8 178.2 571.0 182.1 570.0 184.0Z"/>
<path fill="#ee8c2c" d="M582.0 182.0C581.0 183.2 583.2 183.3 584.0 184.2C584.8 185.1 585.2 186.5 586.8 187.5C588.4 188.5 590.9 189.5 593.4 190.3C595.9 191.1 598.7 191.9 601.8 192.1C604.9 192.3 609.3 192.0 612.1 191.5C614.9 191.0 616.9 190.0 618.6 189.0C620.3 188.0 621.4 186.8 622.3 185.6C623.2 184.4 626.0 183.4 624.0 182.0C622.0 180.6 615.7 177.8 610.0 177.0C604.3 176.2 594.7 176.2 590.0 177.0C585.3 177.8 583.0 180.8 582.0 182.0Z"/>
<path fill="#e64c2c" d="M593.0 181.0C591.2 182.0 593.9 182.1 594.3 183.0C594.7 183.9 594.1 185.6 595.2 186.5C596.3 187.4 598.8 188.3 600.8 188.6C602.8 188.8 605.7 188.5 607.4 188.0C609.1 187.5 610.3 186.6 611.1 185.6C611.9 184.6 613.0 183.4 612.0 182.0C611.0 180.6 608.2 177.2 605.0 177.0C601.8 176.8 594.8 180.0 593.0 181.0Z"/>
<ellipse cx="603" cy="183" rx="5.5" ry="2.6" fill="#e4302a"/>
<path fill="#fcd61c" d="M566.0 287.0C567.1 284.6 570.3 285.9 572.8 285.3C575.3 284.7 577.0 283.9 581.2 283.5C585.4 283.1 592.4 283.0 598.0 283.0C603.6 283.0 610.5 282.9 614.9 283.3C619.3 283.7 621.7 284.5 624.2 285.3C626.7 286.1 629.0 285.6 630.0 288.0C631.0 290.4 640.7 298.0 630.0 300.0C619.3 302.0 576.7 302.2 566.0 300.0C555.3 297.8 564.9 289.4 566.0 287.0Z"/>
<path fill="#ee8c2c" d="M578.0 290.5C578.5 288.6 579.4 289.4 581.2 288.8C583.0 288.2 585.3 287.6 588.7 287.2C592.1 286.8 597.4 286.7 601.8 286.7C606.2 286.7 611.8 286.9 614.9 287.4C618.0 287.9 619.1 289.0 620.5 289.8C621.9 290.6 622.6 290.3 623.0 292.0C623.4 293.7 630.5 298.7 623.0 300.0C615.5 301.3 585.5 301.6 578.0 300.0C570.5 298.4 577.5 292.4 578.0 290.5Z"/>
<path fill="#e64c2c" d="M588.0 292.5C590.0 291.1 595.7 291.8 600.0 291.8C604.3 291.8 611.3 290.9 614.0 292.3C616.7 293.7 620.3 298.7 616.0 300.0C611.7 301.3 592.7 301.2 588.0 300.0C583.3 298.8 586.0 293.9 588.0 292.5Z"/>
</g>
<path d="M539.70 237.70H663.70M601.70 182.30V293.10" stroke="#3a3a55" stroke-width="0.85" stroke-opacity="0.5" fill="none"/>
<ellipse cx="601.70" cy="237.70" rx="62.00" ry="55.40" fill="none" stroke="#666" stroke-width="0.7" stroke-opacity="0.5"/>
<g clip-path="url(#cf5)">
<rect x="383.1" y="331.7" width="126.0" height="112.6" fill="#4c4896"/>
<path fill="#308a64" d="M380.0 373.0C381.1 368.3 384.5 372.8 386.6 371.8C388.7 370.8 390.2 368.6 392.6 367.0C395.0 365.4 398.7 363.4 401.1 362.1C403.5 360.8 405.3 359.9 407.1 359.1C408.9 358.3 410.9 357.3 411.9 357.3C412.9 357.3 413.5 358.1 413.1 359.1C412.7 360.1 409.9 361.8 409.5 363.3C409.1 364.8 409.7 367.0 410.7 368.2C411.7 369.4 414.1 370.8 415.5 370.6C416.9 370.4 418.2 368.3 419.2 367.0C420.2 365.7 420.2 363.7 421.6 362.7C423.0 361.7 425.4 361.4 427.6 360.9C429.8 360.4 432.6 360.1 434.8 359.7C437.0 359.3 438.9 358.7 440.9 358.5C442.9 358.3 445.1 357.9 447.0 358.3C448.9 358.7 449.9 360.3 452.2 360.9C454.5 361.5 458.5 361.5 460.7 362.1C462.9 362.7 464.1 363.5 465.5 364.5C466.9 365.5 467.5 367.0 469.1 368.2C470.7 369.4 473.1 371.0 475.1 371.8C477.1 372.6 479.6 373.2 481.2 373.0C482.8 372.8 483.2 370.4 484.8 370.6C486.4 370.8 489.0 373.0 490.8 374.2C492.6 375.4 494.1 377.2 495.6 377.8C497.1 378.4 498.4 378.3 500.0 378.0C501.6 377.7 503.2 376.5 505.0 376.0C506.8 375.5 510.0 370.3 511.0 375.0C512.0 379.7 511.9 399.1 511.0 404.0C510.1 408.9 507.3 403.9 505.3 404.1C503.3 404.3 501.2 404.7 499.2 405.3C497.2 405.9 495.2 407.1 493.2 407.7C491.2 408.3 488.8 409.1 487.2 408.9C485.6 408.7 484.8 407.1 483.6 406.5C482.4 405.9 481.2 405.1 480.0 405.3C478.8 405.5 477.7 406.9 476.3 407.7C474.9 408.5 473.7 409.4 471.5 410.1C469.3 410.8 466.3 411.5 463.1 411.9C459.9 412.3 455.2 412.4 452.2 412.5C449.2 412.6 446.5 412.9 445.0 412.5C443.5 412.1 444.4 410.8 443.3 410.1C442.2 409.4 440.4 408.7 438.4 408.3C436.4 407.9 433.8 408.1 431.2 407.7C428.6 407.3 425.6 406.6 422.8 405.9C420.0 405.2 416.9 404.2 414.3 403.5C411.7 402.8 409.9 401.9 407.1 401.7C404.3 401.5 399.9 402.0 397.5 402.3C395.1 402.6 394.4 403.8 392.6 403.5C390.8 403.2 388.7 401.1 386.6 400.5C384.5 399.9 381.1 404.6 380.0 400.0C378.9 395.4 378.9 377.7 380.0 373.0Z"/>
<path fill="#4c4896" d="M495.5 377.0C496.1 376.2 498.8 375.5 500.0 376.0C501.2 376.5 502.2 378.0 502.5 380.0C502.8 382.0 502.3 386.0 502.0 388.0C501.7 390.0 501.1 391.5 500.5 392.0C499.9 392.5 499.0 392.0 498.5 391.0C498.0 390.0 497.8 387.7 497.5 386.0C497.2 384.3 496.8 382.5 496.5 381.0C496.2 379.5 494.9 377.8 495.5 377.0Z"/>
<path fill="#70b23c" d="M380.0 379.0C380.9 376.1 383.7 379.0 385.4 377.8C387.1 376.6 388.2 373.2 390.2 371.8C392.2 370.4 395.3 369.6 397.5 369.4C399.7 369.2 401.9 370.0 403.5 370.6C405.1 371.2 405.5 372.4 407.1 373.0C408.7 373.6 411.0 374.0 413.0 374.0C415.0 374.0 417.6 374.2 419.2 373.0C420.8 371.8 421.8 368.5 422.8 367.0C423.8 365.5 423.4 364.7 425.2 363.9C427.0 363.1 430.6 362.7 433.6 362.1C436.6 361.5 441.1 360.7 443.3 360.3C445.5 359.9 445.7 359.4 447.0 359.9C448.3 360.4 448.9 362.5 451.0 363.3C453.1 364.1 457.3 363.7 459.5 364.5C461.7 365.3 462.9 366.8 464.3 368.2C465.7 369.6 466.3 371.6 467.9 373.0C469.5 374.4 471.9 375.7 473.9 376.6C475.9 377.5 478.2 378.4 480.0 378.4C481.8 378.4 483.0 376.3 484.8 376.6C486.6 376.9 489.2 378.8 490.8 380.2C492.4 381.6 493.6 383.4 494.4 385.0C495.2 386.6 495.3 388.3 495.6 390.0C495.9 391.7 495.8 393.3 496.0 395.0C496.2 396.7 496.5 398.7 497.0 400.0C497.5 401.3 499.8 402.0 499.2 402.9C498.6 403.8 495.2 404.9 493.2 405.3C491.2 405.7 488.6 406.1 487.2 405.3C485.8 404.5 485.4 402.7 484.8 400.5C484.2 398.3 484.2 393.8 483.6 392.0C483.0 390.2 482.0 389.8 481.2 389.6C480.4 389.4 479.3 389.8 478.7 390.8C478.1 391.8 477.9 393.6 477.5 395.6C477.1 397.6 477.1 400.9 476.3 402.9C475.5 404.9 474.3 406.5 472.7 407.7C471.1 408.9 469.3 409.6 466.7 410.1C464.1 410.6 460.7 410.7 457.1 410.7C453.5 410.7 447.3 410.6 445.0 410.1C442.7 409.6 444.4 408.3 443.3 407.7C442.2 407.1 440.4 407.1 438.4 406.5C436.4 405.9 433.8 405.0 431.2 404.1C428.6 403.2 425.6 401.9 422.8 401.1C420.0 400.3 416.9 399.8 414.3 399.3C411.7 398.8 410.3 398.4 407.1 398.1C403.9 397.8 398.7 397.9 395.1 397.5C391.5 397.1 387.9 396.0 385.4 395.6C382.9 395.2 380.9 397.8 380.0 395.0C379.1 392.2 379.1 381.9 380.0 379.0Z"/>
<ellipse cx="507.5" cy="385" rx="3" ry="5" fill="#70b23c"/>
<ellipse cx="411.9" cy="389.2" rx="3.6" ry="5" fill="#b6ce34"/>
<path fill="#b6ce34" d="M427.0 386.0C427.0 383.6 427.2 380.5 427.5 378.5C427.8 376.5 428.0 375.5 428.7 374.0C429.4 372.5 430.0 370.8 431.6 369.4C433.2 367.9 435.6 366.3 438.1 365.3C440.6 364.3 443.7 363.2 446.5 363.2C449.3 363.2 452.6 364.3 455.0 365.3C457.4 366.3 458.7 367.9 460.6 369.0C462.5 370.1 464.5 370.9 466.2 372.2C467.9 373.5 469.8 375.4 470.9 376.9C472.0 378.4 472.5 379.5 473.0 381.0C473.5 382.5 474.1 384.4 473.9 386.0C473.6 387.6 472.7 389.2 471.5 390.8C470.3 392.4 468.5 394.4 466.7 395.6C464.9 396.8 462.1 396.7 460.7 398.1C459.3 399.5 459.7 402.7 458.3 404.1C456.9 405.5 454.4 406.3 452.2 406.5C450.0 406.7 447.3 406.1 445.0 405.5C442.7 404.9 440.7 403.9 438.4 402.9C436.1 401.9 433.0 400.9 431.2 399.3C429.4 397.7 428.3 395.4 427.6 393.2C426.9 391.0 427.0 388.4 427.0 386.0Z"/>
<ellipse cx="422.5" cy="386.4" rx="2.7" ry="3.8" fill="#308a64"/>
<path fill="#fcd61c" d="M436.2 374.0C437.0 372.4 438.1 371.2 440.0 370.3C441.9 369.4 445.0 368.9 447.5 368.9C450.0 368.9 453.1 369.6 455.0 370.3C456.9 371.0 458.4 371.7 458.7 373.1C459.0 374.5 456.2 377.3 456.8 378.7C457.4 380.1 461.1 380.4 462.5 381.5C463.9 382.6 464.7 383.9 465.3 385.3C465.9 386.7 466.4 388.6 466.2 390.0C466.0 391.4 465.6 392.4 464.3 393.7C463.1 394.9 460.1 396.2 458.7 397.5C457.3 398.8 457.3 400.4 455.9 401.2C454.5 402.0 452.3 402.4 450.3 402.1C448.3 401.8 445.6 400.6 443.7 399.3C441.8 398.1 440.1 396.2 439.0 394.6C437.9 393.1 437.3 391.6 437.2 390.0C437.1 388.4 438.4 387.0 438.1 385.3C437.8 383.6 435.6 381.6 435.3 379.7C435.0 377.8 435.4 375.6 436.2 374.0Z"/>
<path fill="#ee8c2c" d="M440.0 376.0C440.1 374.8 441.0 374.0 442.0 373.5C443.0 373.0 444.7 372.8 446.0 372.8C447.3 372.8 449.0 372.9 450.0 373.5C451.0 374.1 451.9 375.4 452.2 376.5C452.5 377.6 451.7 379.1 452.0 380.0C452.3 380.9 453.1 381.7 454.0 382.0C454.9 382.3 456.5 381.7 457.5 382.0C458.5 382.3 459.6 383.2 460.0 384.0C460.4 384.8 460.5 386.2 460.1 386.8C459.7 387.4 458.5 387.6 457.5 387.5C456.5 387.4 455.2 387.2 454.0 386.5C452.8 385.8 451.8 384.2 450.5 383.5C449.2 382.8 447.5 382.9 446.0 382.5C444.5 382.1 442.5 382.1 441.5 381.0C440.5 379.9 439.9 377.2 440.0 376.0Z"/>
<path fill="#ee8c2c" d="M440.9 389.5C441.1 388.8 442.1 388.1 443.0 388.1C443.9 388.1 445.2 388.8 446.5 389.5C447.8 390.2 449.6 391.5 451.0 392.5C452.4 393.5 454.2 394.5 455.0 395.5C455.8 396.5 456.1 397.8 455.9 398.5C455.6 399.2 454.6 399.5 453.5 399.5C452.4 399.5 450.5 399.2 449.0 398.5C447.5 397.8 445.8 396.5 444.5 395.5C443.2 394.5 442.1 393.5 441.5 392.5C440.9 391.5 440.6 390.2 440.9 389.5Z"/>
<ellipse cx="446" cy="377.3" rx="1.8" ry="1.6" fill="#e64c2c"/>
</g>
<path d="M384.10 388.00H508.10M446.10 332.70V443.30" stroke="#3a3a55" stroke-width="0.85" stroke-opacity="0.5" fill="none"/>
<ellipse cx="446.10" cy="388.00" rx="62.00" ry="55.30" fill="none" stroke="#666" stroke-width="0.7" stroke-opacity="0.5"/>
<g clip-path="url(#cf6)">
<rect x="537.9" y="331.6" width="126.2" height="112.9" fill="#70b23c"/>
<path fill="#b6ce34" d="M570.0 332.0C567.2 333.3 572.1 336.2 573.2 338.0C574.3 339.8 575.8 341.2 576.8 342.8C577.8 344.4 578.0 346.2 579.2 347.7C580.4 349.2 582.2 351.3 584.0 351.9C585.8 352.5 588.0 351.8 590.0 351.3C592.0 350.8 594.3 349.5 596.1 348.9C597.9 348.3 599.3 347.5 601.0 347.7C602.7 347.9 604.1 349.1 606.2 350.1C608.3 351.1 610.7 353.1 613.5 353.7C616.3 354.3 620.1 354.1 623.1 353.7C626.1 353.3 629.3 351.9 631.5 351.3C633.7 350.7 635.2 351.3 636.4 350.1C637.6 348.9 639.0 345.4 638.8 344.0C638.6 342.6 637.8 342.2 635.2 341.6C632.6 341.0 626.7 340.8 623.1 340.4C619.5 340.0 615.4 340.4 613.5 339.2C611.6 338.0 615.9 334.5 612.0 333.0C608.1 331.5 597.0 330.2 590.0 330.0C583.0 329.8 572.8 330.7 570.0 332.0Z"/>
<path fill="#b6ce34" d="M636.0 348.0C636.2 347.1 638.5 347.0 640.0 347.5C641.5 348.0 643.2 349.7 645.0 351.0C646.8 352.3 649.3 354.3 651.0 355.5C652.7 356.7 654.7 357.1 655.0 358.0C655.3 358.9 654.2 360.5 653.0 361.0C651.8 361.5 649.7 361.4 648.0 361.0C646.3 360.6 644.6 359.8 643.0 358.5C641.4 357.2 639.7 354.8 638.5 353.0C637.3 351.2 635.8 348.9 636.0 348.0Z"/>
<path fill="#b6ce34" d="M658.0 368.0C657.2 368.4 660.2 369.3 660.0 370.6C659.8 371.9 657.7 373.4 657.0 376.0C656.3 378.6 656.2 382.7 656.0 386.0C655.8 389.3 655.5 393.2 656.0 395.6C656.5 398.0 657.8 399.8 659.3 400.5C660.8 401.2 664.0 405.4 665.0 400.0C666.0 394.6 666.2 373.3 665.0 368.0C663.8 362.7 658.8 367.6 658.0 368.0Z"/>
<path fill="#b6ce34" d="M536.0 372.0C536.8 366.7 539.2 374.2 540.6 375.4C542.0 376.6 543.0 377.6 544.2 379.0C545.4 380.4 546.8 382.3 547.8 383.8C548.8 385.3 549.7 386.4 550.3 388.0C550.9 389.6 551.5 390.9 551.5 393.2C551.5 395.5 551.1 399.5 550.3 401.7C549.5 403.9 548.0 405.6 546.6 406.5C545.2 407.4 543.6 407.0 541.8 407.1C540.0 407.2 537.0 412.9 536.0 407.0C535.0 401.1 535.2 377.3 536.0 372.0Z"/>
<path fill="#b6ce34" d="M545.0 417.0C543.0 412.0 546.1 416.5 547.8 416.1C549.5 415.8 553.1 414.7 555.1 414.9C557.1 415.1 558.5 417.1 559.9 417.3C561.3 417.5 561.5 416.9 563.5 416.3C565.5 415.7 569.4 414.1 572.0 413.7C574.6 413.3 577.0 413.3 579.2 413.7C581.4 414.1 583.4 415.1 585.2 416.1C587.0 417.1 588.2 418.7 590.0 419.7C591.8 420.7 594.6 422.0 596.1 422.2C597.6 422.4 597.5 421.4 599.0 421.0C600.5 420.6 603.0 419.5 605.0 419.7C607.0 419.9 609.6 420.4 611.0 422.2C612.4 424.0 612.5 429.0 613.5 430.6C614.5 432.2 615.9 432.8 617.1 431.8C618.3 430.8 619.1 426.8 620.7 424.6C622.3 422.4 624.5 419.7 626.7 418.5C628.9 417.3 632.2 416.9 634.0 417.3C635.8 417.7 637.2 419.4 637.6 421.0C638.0 422.6 637.4 424.8 636.4 427.0C635.4 429.2 633.3 432.2 631.5 434.2C629.7 436.2 627.4 437.0 625.5 439.0C623.6 441.0 630.9 444.8 620.0 446.0C609.1 447.2 572.5 450.8 560.0 446.0C547.5 441.2 547.0 422.0 545.0 417.0Z"/>
<path fill="#70b23c" d="M559.9 417.3C560.6 416.0 561.8 417.4 563.0 418.0C564.2 418.6 566.0 419.5 567.1 421.0C568.2 422.5 568.7 425.0 569.5 427.0C570.3 429.0 571.1 431.3 572.0 433.0C572.9 434.7 573.8 435.8 575.0 437.0C576.2 438.2 579.5 439.3 579.0 440.0C578.5 440.7 574.2 441.5 572.0 441.0C569.8 440.5 567.8 438.5 566.0 437.0C564.2 435.5 562.2 433.7 561.0 431.8C559.8 429.9 558.9 428.2 558.7 425.8C558.5 423.4 559.2 418.6 559.9 417.3Z"/>
<path fill="#308a64" d="M558.7 367.0C559.1 365.9 561.3 365.3 563.5 365.1C565.7 364.9 569.8 366.2 572.0 365.7C574.2 365.2 575.2 363.2 576.8 362.1C578.4 361.0 579.8 359.4 581.6 359.1C583.4 358.8 585.4 360.0 587.6 360.3C589.8 360.6 592.7 360.9 594.9 360.9C597.1 360.9 598.7 360.4 601.0 360.5C603.3 360.6 605.7 361.4 608.6 361.5C611.5 361.6 615.5 361.2 618.3 360.9C621.1 360.6 623.5 360.2 625.5 359.7C627.5 359.2 628.7 357.7 630.3 357.9C631.9 358.1 633.8 359.2 635.2 360.9C636.6 362.6 637.4 366.0 638.8 368.2C640.2 370.4 642.2 372.2 643.6 374.2C645.0 376.2 646.4 378.0 647.2 380.2C648.0 382.4 648.2 384.8 648.4 387.4C648.6 390.0 648.8 392.8 648.4 395.6C648.0 398.4 647.2 402.1 646.0 404.1C644.8 406.1 644.0 407.0 641.2 407.7C638.4 408.4 633.1 408.0 629.1 408.3C625.1 408.6 620.5 409.0 617.1 409.5C613.7 410.0 611.3 411.2 608.6 411.3C605.9 411.4 603.3 410.7 601.0 410.1C598.7 409.5 597.1 408.5 594.9 407.7C592.7 406.9 590.2 405.9 587.6 405.3C585.0 404.7 582.0 404.5 579.2 404.1C576.4 403.7 573.5 403.5 570.7 402.9C567.9 402.3 564.1 401.7 562.3 400.5C560.5 399.3 560.2 397.7 559.9 395.6C559.6 393.5 559.7 390.2 560.5 388.0C561.3 385.8 563.8 384.7 564.7 382.6C565.6 380.5 566.5 377.2 565.9 375.4C565.3 373.6 562.3 373.2 561.1 371.8C559.9 370.4 558.3 368.1 558.7 367.0Z"/>
<path fill="#4c4896" d="M585.2 369.4C586.2 368.8 588.0 368.4 590.0 368.2C592.0 368.0 595.5 368.4 597.3 368.2C599.1 368.0 599.5 367.3 601.0 367.0C602.5 366.7 603.5 366.3 606.2 366.3C608.9 366.3 613.9 366.5 617.1 367.0C620.3 367.5 623.1 368.4 625.5 369.4C627.9 370.4 629.9 371.6 631.5 373.0C633.1 374.4 633.8 376.2 635.2 377.8C636.6 379.4 638.8 381.0 640.0 382.6C641.2 384.2 642.4 386.2 642.4 387.4C642.4 388.6 641.2 388.6 640.0 389.6C638.8 390.6 636.4 391.6 635.2 393.2C634.0 394.8 633.7 397.7 632.7 399.3C631.7 400.9 630.9 402.7 629.1 402.9C627.3 403.1 623.9 400.9 621.9 400.5C619.9 400.1 618.5 399.7 617.1 400.5C615.7 401.3 615.3 404.4 613.5 405.3C611.7 406.2 608.6 406.1 606.2 405.9C603.8 405.7 601.1 404.8 599.0 404.1C596.9 403.4 595.5 402.3 593.6 401.7C591.7 401.1 590.0 401.1 587.6 400.5C585.2 399.9 581.4 399.3 579.2 398.1C577.0 396.9 575.2 394.6 574.4 393.2C573.6 391.8 574.4 391.4 574.5 390.0C574.6 388.6 575.2 386.6 575.0 385.0C574.8 383.4 572.5 381.6 573.2 380.2C573.9 378.8 577.4 378.0 579.2 376.6C581.0 375.2 583.0 373.0 584.0 371.8C585.0 370.6 584.2 370.0 585.2 369.4Z"/>
<ellipse cx="615.6" cy="378.4" rx="3.3" ry="4.8" fill="#308a64"/>
</g>
<path d="M538.90 388.00H663.10M601.00 332.55V443.45" stroke="#3a3a55" stroke-width="0.85" stroke-opacity="0.5" fill="none"/>
<ellipse cx="601.00" cy="388.00" rx="62.10" ry="55.45" fill="none" stroke="#666" stroke-width="0.7" stroke-opacity="0.5"/>
</svg>
<div class="lg">
<div style="top:1.5px;height:19.8px;background:#e4302a"></div>
<div style="top:23.1px;height:19.6px;background:#e64c2c"></div>
<div style="top:44.9px;height:19.6px;background:#ee8c2c"></div>
<div style="top:66.8px;height:19.6px;background:#fcd61c"></div>
<div style="top:88.7px;height:19.6px;background:#b6ce34"></div>
<div style="top:110.6px;height:19.6px;background:#70b23c"></div>
<div style="top:132.5px;height:19.6px;background:#308a64"></div>
<div style="top:154.4px;height:19.2px;background:#4c4896"></div>
</div>
<div class="t" style="font-size:21px;left:93px;top:39.7px">4.5</div>
<div class="t" style="font-size:21px;left:93px;top:61.7px">3.3</div>
<div class="t" style="font-size:21px;left:93px;top:83.8px">2.5</div>
<div class="t" style="font-size:21px;left:93px;top:105.8px">1.8</div>
<div class="t" style="font-size:21px;left:93px;top:127.9px">1.4</div>
<div class="t" style="font-size:21px;left:93px;top:149.9px">1.0</div>
<div class="t" style="font-size:21px;left:93px;top:172px;word-spacing:1.5px">0.75 MRD</div>

<div class="t" style="font-size:20.5px;left:432px;top:6.2px">0002</div>
<div class="t" style="font-size:20.5px;left:577.5px;top:6.2px">1010</div>
<div style="position:absolute;left:599.8px;top:4.6px;width:14.8px;height:1.4px;background:#222"></div>

<div class="t" style="font-size:20px;left:448.6px;top:140.55px;transform:scaleX(1.148)">max: 1.8 MRD</div>
<div class="t" style="font-size:20px;left:448.6px;top:292.55px;transform:scaleX(1.148)">max: 4.8 MRD</div>
<div class="t" style="font-size:20px;left:448.6px;top:447.75px;transform:scaleX(1.148)">max: 3.5 MRD</div>

<div class="t b" style="font-size:25.5px;left:221.3px;top:69.8px;transform:scaleX(1.13)">as-molded</div>
<div class="t b" style="font-size:25.5px;left:240.3px;top:220.7px;transform:scaleX(1.133)">as-rolled</div>
<div class="t b" style="font-size:25.5px;left:6.3px;top:371.8px;transform:scaleX(1.137)">rolled + 558 K (285ºC)/10 min</div>

<div class="t" style="font-size:12px;left:55.5px;top:231.85px">RD</div>
<div class="t" style="font-size:12px;left:164px;top:326.95px">TD</div>
<svg width="685" height="481" style="position:absolute;left:0;top:0">
<path d="M62.8 334.2 V262" stroke="#1a1a1a" stroke-width="2.6" fill="none"/>
<path d="M61.5 333 H140" stroke="#1a1a1a" stroke-width="2.6" fill="none"/>
<path d="M62.9 248.6 L57.9 265.3 L67.9 265.3 Z" fill="#1a1a1a"/>
<path d="M157.2 333 L137.8 329 L137.8 337.6 Z" fill="#1a1a1a"/>
</svg>
</body></html>
